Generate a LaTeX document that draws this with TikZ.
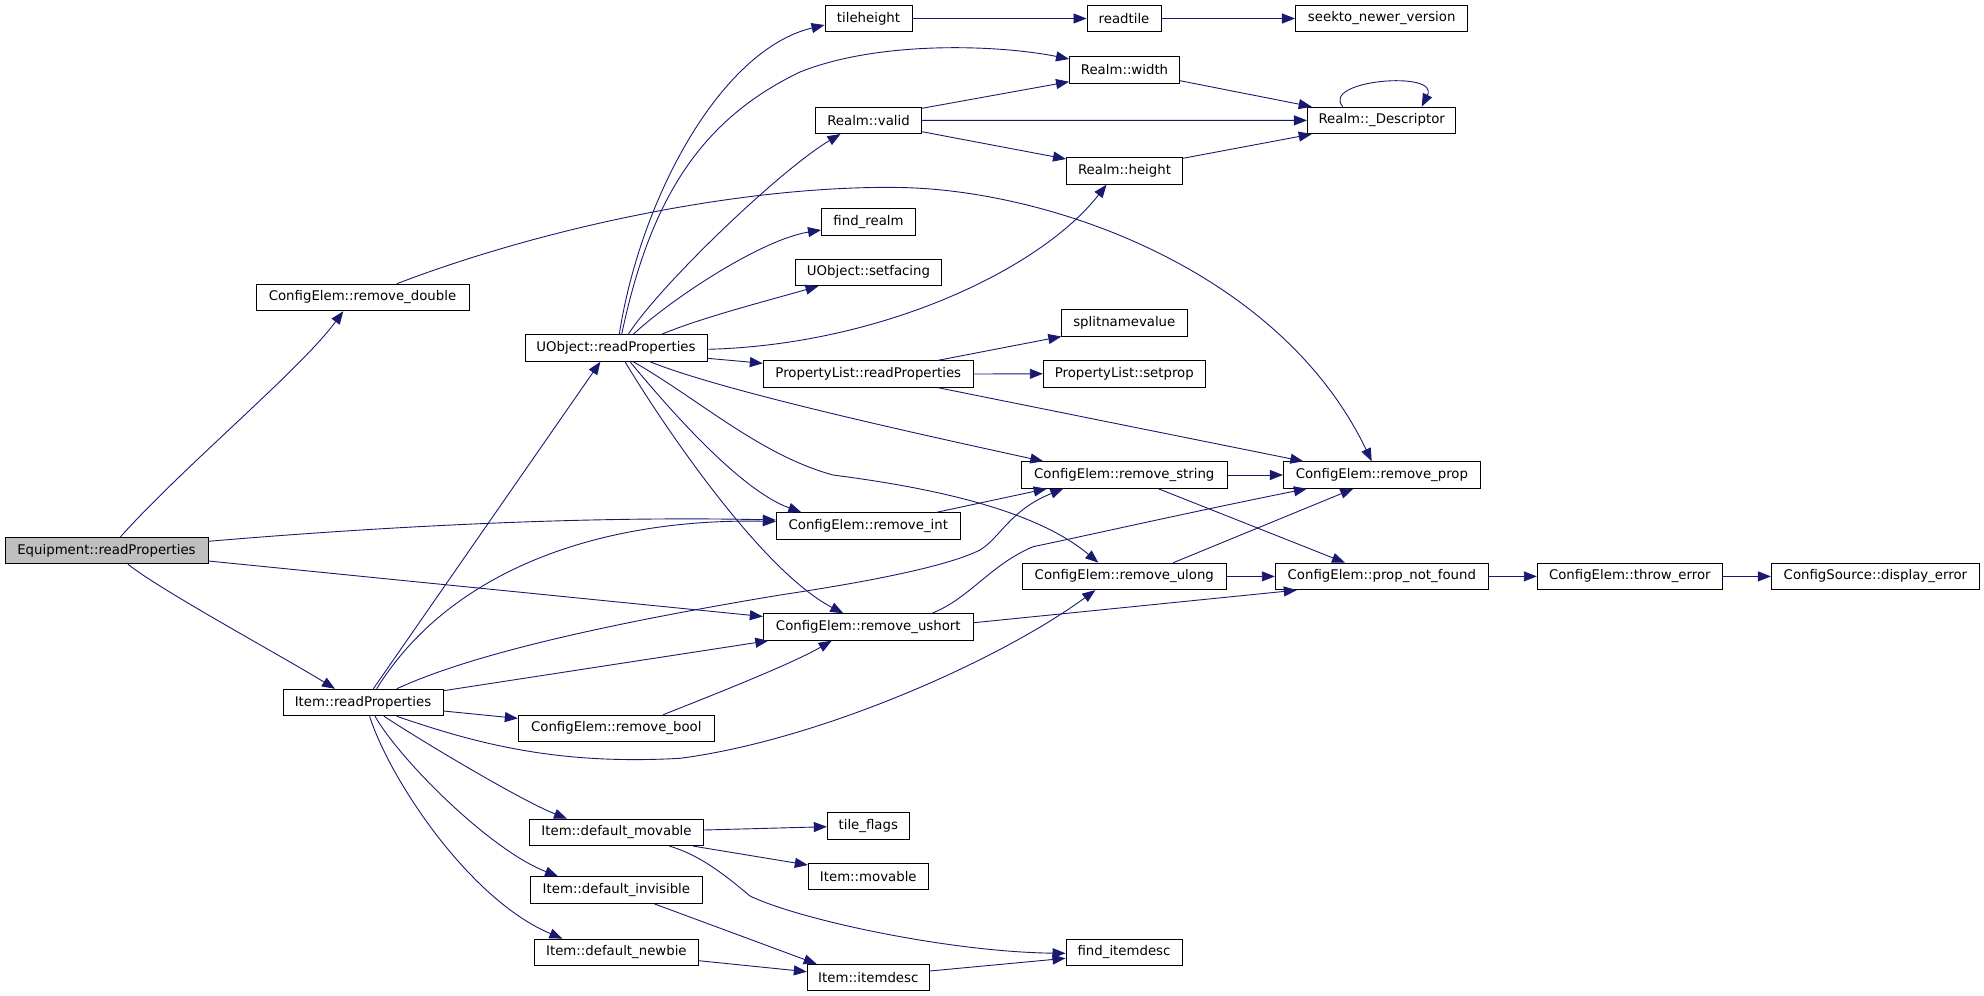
\documentclass[tikz,border=0pt]{standalone}
\usepackage{fontspec}
\setmainfont{DejaVu Sans}
\usetikzlibrary{arrows.meta}
\definecolor{cgblue}{RGB}{25,25,112}
\definecolor{rootfill}{RGB}{191,191,191}
\begin{document}
\begin{tikzpicture}[x=1pt,y=-1pt,
  box/.style={draw=black, line width=0.95pt, fill=white, minimum height=26.5pt, inner sep=0pt, font=\fontsize{13.3}{16}\selectfont},
  call/.style={draw=cgblue, line width=0.9pt, -{Triangle[length=13pt,width=10pt]}}]
\useasboundingbox (0,0) rectangle (1984,996);
% nodes
\node[box, minimum width=203pt, fill=rootfill] (E) at (106.5,550.5) {Equipment::readProperties};
\node[box, minimum width=213pt] (RD) at (362.5,297.5) {ConfigElem::remove\_double};
\node[box, minimum width=182pt] (U) at (616,348) {UObject::readProperties};
\node[box, minimum width=160pt] (IR) at (363,702.5) {Item::readProperties};
\node[box, minimum width=87pt] (TH) at (868.5,18.5) {tileheight};
\node[box, minimum width=74pt] (RT) at (1124,18.5) {readtile};
\node[box, minimum width=172.5pt] (SK) at (1381.7,18.5) {seekto\_newer\_version};
\node[box, minimum width=110pt] (RW) at (1124.5,70) {Realm::width};
\node[box, minimum width=106pt] (RV) at (868.5,120.3) {Realm::valid};
\node[box, minimum width=148.5pt] (RDesc) at (1381.7,120.4) {Realm::\_Descriptor};
\node[box, minimum width=116pt] (RH) at (1124.5,171) {Realm::height};
\node[box, minimum width=94pt] (FR) at (868.5,222) {find\_realm};
\node[box, minimum width=146pt] (SF) at (868.5,272.3) {UObject::setfacing};
\node[box, minimum width=126pt] (SNV) at (1124.3,322.8) {splitnamevalue};
\node[box, minimum width=210pt] (PL) at (868.3,374) {PropertyList::readProperties};
\node[box, minimum width=162pt] (SP) at (1124.3,373.8) {PropertyList::setprop};
\node[box, minimum width=206pt] (RS) at (1124.3,475) {ConfigElem::remove\_string};
\node[box, minimum width=197pt] (RP) at (1381.9,475) {ConfigElem::remove\_prop};
\node[box, minimum width=184pt] (RI) at (868.3,526) {ConfigElem::remove\_int};
\node[box, minimum width=204pt] (RUL) at (1124.3,576.4) {ConfigElem::remove\_ulong};
\node[box, minimum width=213pt] (PNF) at (1381.8,576.4) {ConfigElem::prop\_not\_found};
\node[box, minimum width=185pt] (TE) at (1629.8,576.4) {ConfigElem::throw\_error};
\node[box, minimum width=208pt] (DE) at (1875.4,576.4) {ConfigSource::display\_error};
\node[box, minimum width=210pt] (RUS) at (868.3,627) {ConfigElem::remove\_ushort};
\node[box, minimum width=196pt] (RB) at (616.3,728.4) {ConfigElem::remove\_bool};
\node[box, minimum width=174pt] (DM) at (616.5,832.4) {Item::default\_movable};
\node[box, minimum width=172pt] (DI) at (616.4,890) {Item::default\_invisible};
\node[box, minimum width=164pt] (DN) at (616.4,952.3) {Item::default\_newbie};
\node[box, minimum width=82pt] (TF) at (868.3,826) {tile\_flags};
\node[box, minimum width=120pt] (IM) at (868.3,876.3) {Item::movable};
\node[box, minimum width=116pt] (FID) at (1124,952.3) {find\_itemdesc};
\node[box, minimum width=122pt] (ID) at (868.3,977.7) {Item::itemdesc};
% Equipment::readProperties
\draw[call] ([xshift=14pt]E.north) .. controls (185,465) and (300,370) .. ([xshift=-19.2pt]RD.south);
\draw[call] ([yshift=9.2pt]E.east) .. controls (400,525) and (600,516) .. ([yshift=6pt]RI.west);
\draw[call] ([yshift=-10.5pt]E.east) -- ([yshift=10.5pt]RUS.west);
\draw[call] ([xshift=21.5pt]E.south) .. controls (160,590) and (280,655) .. ([xshift=-28pt]IR.north);
% remove_double
\draw[call] ([xshift=34.2pt]RD.north) .. controls (550,225) and (750,185) .. (900,187.5) .. controls (1050,190) and (1280,270) .. ([xshift=-10.2pt]RP.north);
% UObject::readProperties
\draw[call] ([xshift=3.3pt]U.north) .. controls (640,200) and (720,50) .. ([yshift=-6.5pt]TH.west);
\draw[call] ([xshift=5.7pt]U.north) .. controls (650,200) and (700,120) .. (800,72) .. controls (880,40) and (1000,45) .. ([yshift=11pt]RW.west);
\draw[call] ([xshift=12.3pt]U.north) .. controls (660,285) and (780,170) .. ([xshift=-28pt]RV.south);
\draw[call] ([xshift=17.3pt]U.north) .. controls (670,300) and (760,240) .. ([yshift=-8pt]FR.west);
\draw[call] ([xshift=45.7pt]U.north) .. controls (700,318) and (770,300) .. ([xshift=-50pt]SF.south);
\draw[call] ([yshift=-1.3pt]U.east) .. controls (880,345) and (1040,270) .. ([xshift=-18pt]RH.south);
\draw[call] ([yshift=-10.3pt]U.east) -- ([yshift=10.7pt]PL.west);
\draw[call] ([xshift=34pt]U.south) .. controls (720,390) and (900,430) .. ([xshift=-81pt]RS.north);
\draw[call] ([xshift=17.3pt]U.south) .. controls (700,400) and (760,455) .. (833,475) .. controls (910,485) and (1030,505) .. ([xshift=-26pt]RUL.north);
\draw[call] ([xshift=14pt]U.south) .. controls (670,410) and (740,490) .. ([xshift=-67pt]RI.north);
\draw[call] ([xshift=9pt]U.south) .. controls (660,420) and (760,570) .. ([xshift=-25pt]RUS.north);
% Item::readProperties
\draw[call] ([xshift=10.3pt]IR.north) -- ([xshift=-15.6pt]U.south);
\draw[call] ([xshift=13.7pt]IR.north) .. controls (450,570) and (600,518) .. ([yshift=4.5pt]RI.west);
\draw[call] ([xshift=33.7pt]IR.north) .. controls (470,655) and (600,625) .. (780,595) .. controls (880,580) and (950,565) .. (980,550) .. controls (1000,538) and (1010,510) .. ([xshift=-61pt]RS.south);
\draw[call] ([yshift=11.8pt]IR.east) -- ([xshift=-100pt]RUS.south);
\draw[call] ([yshift=-8.5pt]IR.east) -- ([yshift=10pt]RB.west);
\draw[call] ([xshift=33.7pt]IR.south) .. controls (480,745) and (560,765) .. (680,758.3) .. controls (820,740) and (1000,660) .. ([xshift=-29pt]RUL.south);
\draw[call] ([xshift=21pt]IR.south) .. controls (420,740) and (520,800) .. ([xshift=-49.5pt]DM.north);
\draw[call] ([xshift=12pt]IR.south) .. controls (400,760) and (490,850) .. ([xshift=-58.4pt]DI.north);
\draw[call] ([xshift=6.6pt]IR.south) .. controls (390,780) and (470,900) .. ([xshift=-54pt]DN.north);
% Realm
\draw[call] (TH.east) -- (RT.west);
\draw[call] (RT.east) -- (SK.west);
\draw[call] ([yshift=12pt]RV.east) -- ([yshift=-11.7pt]RW.west);
\draw[call] (RV.east) -- (RDesc.west);
\draw[call] ([yshift=-11.4pt]RV.east) -- ([yshift=12pt]RH.west);
\draw[call] ([yshift=-10.7pt]RW.east) -- ([xshift=-70pt]RDesc.north);
\draw[call] ([yshift=12.7pt]RH.east) -- ([xshift=-70pt]RDesc.south);
\draw[call] ([xshift=-39pt]RDesc.north) .. controls (1320,80) and (1440,70) .. ([xshift=40pt]RDesc.north);
% PropertyList
\draw[call] ([xshift=70pt]PL.north) -- ([xshift=-63pt]SNV.south);
\draw[call] (PL.east) -- (SP.west);
\draw[call] ([xshift=70pt]PL.south) -- ([xshift=-78.6pt]RP.north);
% ConfigElem
\draw[call] ([xshift=68.4pt]RI.north) -- ([xshift=-77.6pt]RS.south);
\draw[call] (RS.east) -- (RP.west);
\draw[call] ([xshift=34pt]RS.south) -- ([xshift=-36.8pt]PNF.north);
\draw[call] ([xshift=49pt]RUL.north) -- ([xshift=-28.6pt]RP.south);
\draw[call] (RUL.east) -- (PNF.west);
\draw[call] ([xshift=63.7pt]RUS.north) .. controls (970,598) and (990,565) .. (1033,546.7) .. controls (1080,537) and (1200,510) .. ([xshift=-75pt]RP.south);
\draw[call] ([yshift=4.3pt]RUS.east) -- ([xshift=-85pt]PNF.south);
\draw[call] ([xshift=47pt]RB.north) .. controls (700,700) and (790,665) .. ([xshift=-36.6pt]RUS.south);
\draw[call] (PNF.east) -- (TE.west);
\draw[call] (TE.east) -- (DE.west);
% Item defaults
\draw[call] ([yshift=2.4pt]DM.east) -- ([yshift=-0.7pt]TF.west);
\draw[call] ([xshift=76.8pt]DM.south) -- ([yshift=11.3pt]IM.west);
\draw[call] ([xshift=53pt]DM.south) .. controls (700,855) and (725,875) .. (750,896) .. controls (800,920) and (950,952) .. ([yshift=-1pt]FID.west);
\draw[call] ([xshift=37.6pt]DI.south) -- ([xshift=-51.6pt]ID.north);
\draw[call] ([yshift=-8.4pt]DN.east) -- ([yshift=6pt]ID.west);
\draw[call] ([yshift=6.7pt]ID.east) -- ([yshift=-6pt]FID.west);
\end{tikzpicture}
\end{document}
